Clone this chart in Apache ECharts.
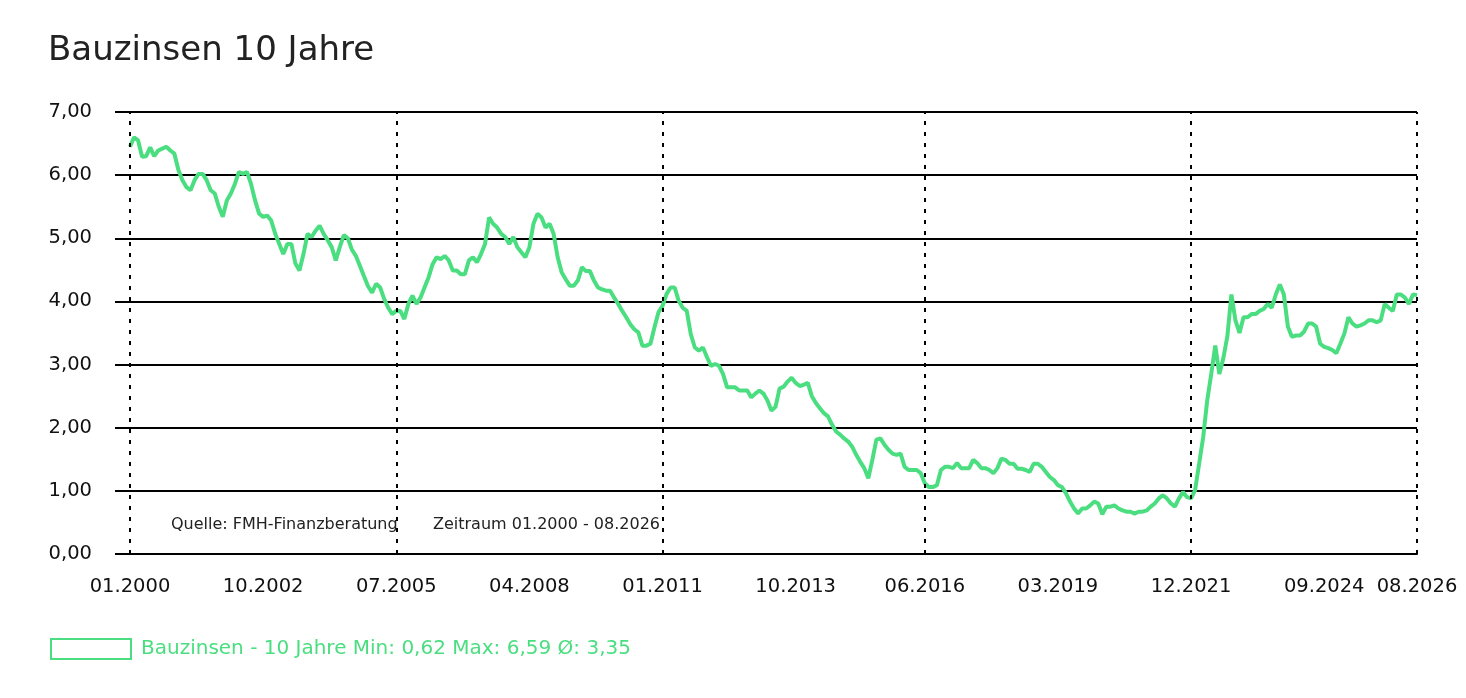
<!DOCTYPE html>
<html>
<head>
<meta charset="utf-8">
<title>Bauzinsen 10 Jahre</title>
<script src="https://cdn.jsdelivr.net/npm/echarts@6/dist/echarts.min.js"></script>
<style>
  html, body { margin: 0; padding: 0; background: #fff; }
  #chart { width: 1466px; height: 698px; }
</style>
</head>
<body>
<div id="chart"></div>
<script>
// Bauzinsen 10 Jahre, Monatswerte ab 01.2000 (Index 0 = 01.2000)
const rates = [
  6.45, 6.60, 6.55, 6.29, 6.30, 6.44, 6.30, 6.39, 6.42, 6.45, 6.39, 6.34,
  6.08, 5.92, 5.81, 5.76, 5.92, 6.02, 6.02, 5.92, 5.76, 5.71, 5.50, 5.34,
  5.60, 5.71, 5.86, 6.05, 6.02, 6.05, 5.86, 5.60, 5.39, 5.34, 5.36, 5.28,
  5.07, 4.91, 4.75, 4.91, 4.91, 4.60, 4.49, 4.75, 5.07, 5.02, 5.12, 5.20,
  5.07, 4.97, 4.86, 4.65, 4.86, 5.05, 5.00, 4.82, 4.72, 4.56, 4.40, 4.24,
  4.14, 4.28, 4.22, 4.04, 3.90, 3.80, 3.85, 3.85, 3.72, 3.96, 4.09, 3.96,
  4.06, 4.22, 4.38, 4.59, 4.70, 4.67, 4.72, 4.65, 4.49, 4.49, 4.43, 4.43,
  4.65, 4.70, 4.62, 4.75, 4.91, 5.33, 5.23, 5.17, 5.07, 5.02, 4.91, 5.02,
  4.86, 4.78, 4.70, 4.86, 5.23, 5.39, 5.33, 5.17, 5.23, 5.07, 4.70, 4.46,
  4.35, 4.25, 4.25, 4.33, 4.54, 4.48, 4.48, 4.33, 4.22, 4.19, 4.17, 4.17,
  4.06, 3.96, 3.85, 3.75, 3.64, 3.56, 3.51, 3.30, 3.30, 3.33, 3.59, 3.83,
  3.93, 4.12, 4.22, 4.22, 4.01, 3.90, 3.85, 3.48, 3.27, 3.22, 3.27, 3.12,
  2.98, 3.01, 2.98, 2.85, 2.64, 2.64, 2.64, 2.59, 2.59, 2.59, 2.48, 2.54,
  2.59, 2.54, 2.43, 2.27, 2.33, 2.62, 2.65, 2.73, 2.79, 2.71, 2.66, 2.68,
  2.71, 2.50, 2.39, 2.31, 2.23, 2.18, 2.05, 1.94, 1.89, 1.83, 1.78, 1.70,
  1.57, 1.46, 1.36, 1.20, 1.49, 1.81, 1.83, 1.73, 1.65, 1.59, 1.57, 1.59,
  1.38, 1.33, 1.33, 1.33, 1.28, 1.12, 1.06, 1.06, 1.09, 1.33, 1.38, 1.38,
  1.36, 1.44, 1.36, 1.36, 1.36, 1.49, 1.44, 1.36, 1.36, 1.33, 1.28, 1.36,
  1.51, 1.49, 1.43, 1.43, 1.35, 1.35, 1.33, 1.30, 1.43, 1.43, 1.38, 1.30,
  1.22, 1.17, 1.09, 1.06, 0.96, 0.83, 0.72, 0.64, 0.72, 0.72, 0.77, 0.83,
  0.80, 0.63, 0.75, 0.75, 0.77, 0.72, 0.69, 0.67, 0.67, 0.64, 0.67, 0.67,
  0.69, 0.75, 0.80, 0.88, 0.93, 0.88, 0.80, 0.75, 0.88, 0.98, 0.90, 0.88,
  1.01, 1.43, 1.85, 2.43, 2.85, 3.30, 2.85, 3.10, 3.45, 4.11, 3.70, 3.50,
  3.75, 3.75, 3.80, 3.80, 3.85, 3.88, 3.96, 3.90, 4.11, 4.27, 4.11, 3.60,
  3.44, 3.46, 3.46, 3.52, 3.65, 3.65, 3.60, 3.33, 3.28, 3.26, 3.23, 3.18,
  3.33, 3.49, 3.75, 3.65, 3.60, 3.62, 3.65, 3.70, 3.70, 3.67, 3.70, 3.96,
  3.90, 3.85, 4.11, 4.11, 4.06, 3.96, 4.11, 4.10
];

// Achsenbeschriftung (Monatsindex -> Text)
const tickMonths = [0, 33, 66, 99, 132, 165, 197, 230, 263, 296, 319];
const tickLabels = ['01.2000', '10.2002', '07.2005', '04.2008', '01.2011', '10.2013',
  '06.2016', '03.2019', '12.2021', '09.2024', '08.2026'];
// gepunktete senkrechte Linien
const dotMonths = [0, 66, 132, 197, 263, 319];

const seriesName = 'Bauzinsen - 10 Jahre';
const statMin = 0.62, statMax = 6.59, statAvg = 3.35;

const GREEN = '#4ADE80';
const FONT = 'DejaVu Sans';
const de = v => v.toFixed(2).replace('.', ',');

const chart = echarts.init(document.getElementById('chart'));

chart.setOption({
  animation: false,
  backgroundColor: '#fff',
  textStyle: { fontFamily: FONT },
  title: {
    text: 'Bauzinsen 10 Jahre',
    left: 43, top: 29,
    textStyle: { fontSize: 34, fontWeight: 'normal', color: '#222', fontFamily: FONT }
  },
  grid: { left: 130, right: 49, top: 112, bottom: 144 },
  legend: {
    left: 45, top: 633,
    itemWidth: 80, itemHeight: 20,
    data: [{ name: seriesName, icon: 'rect' }],
    itemStyle: { color: 'rgba(0,0,0,0)', borderColor: GREEN, borderWidth: 2 },
    textStyle: { color: GREEN, fontSize: 20, fontFamily: FONT, padding: [0, 0, 0, 5] },
    formatter: name => `${name} Min: ${de(statMin)} Max: ${de(statMax)} Ø: ${de(statAvg)}`,
    selectedMode: false
  },
  xAxis: {
    type: 'value',
    min: 0, max: 319,
    axisLine: { show: true, lineStyle: { color: '#000', width: 2 } },
    axisTick: { show: false },
    splitLine: { show: false },
    axisLabel: {
      customValues: tickMonths,
      formatter: v => tickLabels[tickMonths.indexOf(Math.round(v))] || '',
      fontSize: 19.5, color: '#111', margin: 23, fontFamily: FONT
    }
  },
  yAxis: {
    type: 'value',
    min: 0, max: 7, interval: 1,
    axisLine: { show: false },
    axisTick: { show: true, length: 15, lineStyle: { color: '#000', width: 2 } },
    splitLine: { show: true, lineStyle: { color: '#000', width: 2 } },
    axisLabel: {
      formatter: v => de(v),
      fontSize: 19.5, color: '#111', margin: 38, fontFamily: FONT
    }
  },
  graphic: [
    { type: 'text', left: 171, top: 517,
      style: { text: 'Quelle: FMH-Finanzberatung', fontSize: 16, fill: '#222', fontFamily: FONT } },
    { type: 'text', left: 433, top: 517,
      style: { text: 'Zeitraum 01.2000 - 08.2026', fontSize: 16, fill: '#222', fontFamily: FONT } }
  ],
  series: [{
    name: seriesName,
    type: 'line',
    data: rates.map((v, i) => [i, v]),
    showSymbol: false,
    lineStyle: { color: GREEN, width: 4 },
    itemStyle: { color: GREEN },
    z: 3,
    markLine: {
      silent: true,
      symbol: ['none', 'none'],
      label: { show: false },
      lineStyle: { color: '#000', width: 2, type: [4, 7] },
      data: dotMonths.map(m => ({ xAxis: m }))
    }
  }]
});

window.addEventListener('resize', () => chart.resize());
</script>
</body>
</html>
